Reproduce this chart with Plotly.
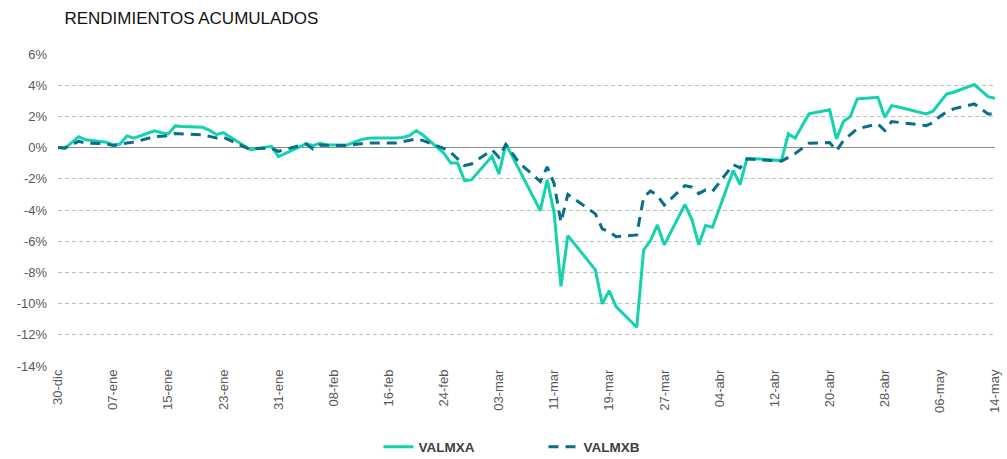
import plotly.graph_objects as go

# trading days (Mexican market calendar)
DATES = [
    "2019-12-30", "2019-12-31",
    "2020-01-02", "2020-01-03", "2020-01-06", "2020-01-07", "2020-01-08", "2020-01-09",
    "2020-01-10", "2020-01-13", "2020-01-14", "2020-01-15", "2020-01-16", "2020-01-17",
    "2020-01-20", "2020-01-21", "2020-01-22", "2020-01-23", "2020-01-24", "2020-01-27",
    "2020-01-28", "2020-01-29", "2020-01-30", "2020-01-31",
    "2020-02-04", "2020-02-05", "2020-02-06", "2020-02-07", "2020-02-10", "2020-02-11",
    "2020-02-12", "2020-02-13", "2020-02-14", "2020-02-17", "2020-02-18", "2020-02-19",
    "2020-02-20", "2020-02-21", "2020-02-24", "2020-02-25", "2020-02-26", "2020-02-27",
    "2020-02-28",
    "2020-03-02", "2020-03-03", "2020-03-04", "2020-03-05", "2020-03-06", "2020-03-09",
    "2020-03-10", "2020-03-11", "2020-03-12", "2020-03-13", "2020-03-17", "2020-03-18",
    "2020-03-19", "2020-03-20", "2020-03-23", "2020-03-24", "2020-03-25", "2020-03-26",
    "2020-03-27", "2020-03-30", "2020-03-31",
    "2020-04-01", "2020-04-02", "2020-04-03", "2020-04-06", "2020-04-07", "2020-04-08",
    "2020-04-13", "2020-04-14", "2020-04-15", "2020-04-16", "2020-04-17", "2020-04-20",
    "2020-04-21", "2020-04-22", "2020-04-23", "2020-04-24", "2020-04-27", "2020-04-28",
    "2020-04-29", "2020-04-30",
    "2020-05-04", "2020-05-05", "2020-05-06", "2020-05-07", "2020-05-08", "2020-05-11",
    "2020-05-12", "2020-05-13", "2020-05-14",
]

VALMXA = [
    0.00, -0.05,
    0.70, 0.50, 0.35, 0.17, 0.23, 0.75,
    0.60, 1.07, 0.95, 0.88, 1.39, 1.35,
    1.30, 1.10, 0.83, 0.96, 0.68, -0.15,
    -0.05, 0.00, 0.08, -0.58,
    0.24, 0.13, 0.28, 0.17, 0.17, 0.35,
    0.51, 0.60, 0.62, 0.62, 0.65, 0.77,
    1.09, 0.79, -0.35, -0.98, -0.98, -2.12,
    -2.07,
    -0.56, -1.69, 0.24, -0.60, -1.45, -4.04,
    -2.07, -4.15, -8.89, -5.64, -7.84, -10.02,
    -9.17, -10.19, -11.52, -6.56, -5.96, -4.96,
    -6.24, -3.65, -4.60,
    -6.22, -5.00, -5.10, -1.47, -2.37, -0.68,
    -0.83, 0.88, 0.60, 1.40, 2.16, 2.42,
    0.56, 1.67, 1.99, 3.12, 3.22, 1.94,
    2.69, 2.60,
    2.16, 2.33, 2.90, 3.44, 3.55, 4.04,
    3.65, 3.27, 3.16,
]

VALMXB = [
    0.00, -0.02,
    0.40, 0.30, 0.24, 0.13, 0.20, 0.30,
    0.35, 0.70, 0.72, 0.77, 0.90, 0.88,
    0.81, 0.72, 0.62, 0.66, 0.45, -0.15,
    -0.05, -0.05, -0.04, -0.24,
    0.24, -0.09, 0.17, 0.15, 0.13, 0.20,
    0.25, 0.30, 0.30, 0.30, 0.38, 0.45,
    0.56, 0.45, -0.05, -0.30, -0.70, -1.15,
    -1.05,
    -0.15, -0.62, 0.20, -0.40, -1.00, -2.17,
    -1.24, -2.30, -4.79, -3.00, -4.25, -5.21,
    -5.40, -5.71, -5.60, -3.18, -2.78, -3.08,
    -3.68, -2.44, -2.54,
    -2.95, -2.71, -2.80, -1.09, -1.30, -0.73,
    -0.87, -0.60, -0.38, -0.05, 0.28, 0.32,
    -0.20, 0.45, 0.80, 1.20, 1.52, 1.09,
    1.67, 1.62,
    1.41, 1.60, 2.00, 2.30, 2.48, 2.80,
    2.50, 2.16, 2.16,
]

TICK_DATES = [
    "2019-12-30", "2020-01-07", "2020-01-15", "2020-01-23", "2020-01-31", "2020-02-08",
    "2020-02-16", "2020-02-24", "2020-03-03", "2020-03-11", "2020-03-19", "2020-03-27",
    "2020-04-04", "2020-04-12", "2020-04-20", "2020-04-28", "2020-05-06", "2020-05-14",
]
TICK_TEXT = [
    "30-dic", "07-ene", "15-ene", "23-ene", "31-ene", "08-feb",
    "16-feb", "24-feb", "03-mar", "11-mar", "19-mar", "27-mar",
    "04-abr", "12-abr", "20-abr", "28-abr", "06-may", "14-may",
]

Y_TICKS = [-14, -12, -10, -8, -6, -4, -2, 0, 2, 4, 6]
Y_TICK_TEXT = [f"{v}%" for v in Y_TICKS]

COLOR_A = "#12D3AD"
COLOR_B = "#076E8B"
COLOR_TICK = "#595959"
FONT = "Liberation Sans, Arial, sans-serif"

fig = go.Figure()
fig.add_trace(
    go.Scatter(
        x=DATES, y=VALMXA, name="VALMXA", mode="lines",
        line={"color": COLOR_A, "width": 3},
    )
)
fig.add_trace(
    go.Scatter(
        x=DATES, y=VALMXB, name="VALMXB", mode="lines",
        line={"color": COLOR_B, "width": 3, "dash": "10px,7px"},
    )
)

fig.update_layout(
    width=1007,
    height=459,
    paper_bgcolor="#ffffff",
    plot_bgcolor="#ffffff",
    font={"family": FONT, "color": COLOR_TICK, "size": 13},
    margin={"l": 58, "r": 12, "t": 54, "b": 93},
    hovermode=False,
    title={
        "text": "RENDIMIENTOS ACUMULADOS",
        "x": 0.064, "xanchor": "left",
        "y": 0.961, "yanchor": "middle",
        "font": {"family": FONT, "size": 17, "color": "#111111"},
    },
    legend={
        "orientation": "h",
        "x": 0.342, "xanchor": "left",
        "yref": "container",
        "y": 0.026, "yanchor": "middle",
        "font": {"family": FONT, "size": 13.5, "color": "#404040", "weight": "bold"},
        "entrywidth": 120,
    },
)
fig.update_xaxes(
    type="date",
    range=["2019-12-30", "2020-05-14"],
    tickvals=TICK_DATES,
    ticktext=TICK_TEXT,
    tickangle=-90,
    tickfont={"size": 13, "color": COLOR_TICK},
    showgrid=False,
    showline=False,
    zeroline=False,
    ticks="",
    automargin=False,
)
fig.update_yaxes(
    range=[-14, 6],
    tickvals=Y_TICKS,
    ticktext=Y_TICK_TEXT,
    tickfont={"size": 13, "color": COLOR_TICK},
    showgrid=True,
    gridcolor="#bfbfbf",
    griddash="4px,3px",
    gridwidth=1,
    zeroline=True,
    zerolinecolor="#8c8c8c",
    zerolinewidth=1,
    showline=False,
    ticks="",
    ticklabelstandoff=10,
    automargin=False,
)

# drop the browser's default page margin so the figure sits at the window origin
fig.write_html(
    "out.html",
    config={"displayModeBar": False},
    post_script="document.body.style.margin='0px';",
)
